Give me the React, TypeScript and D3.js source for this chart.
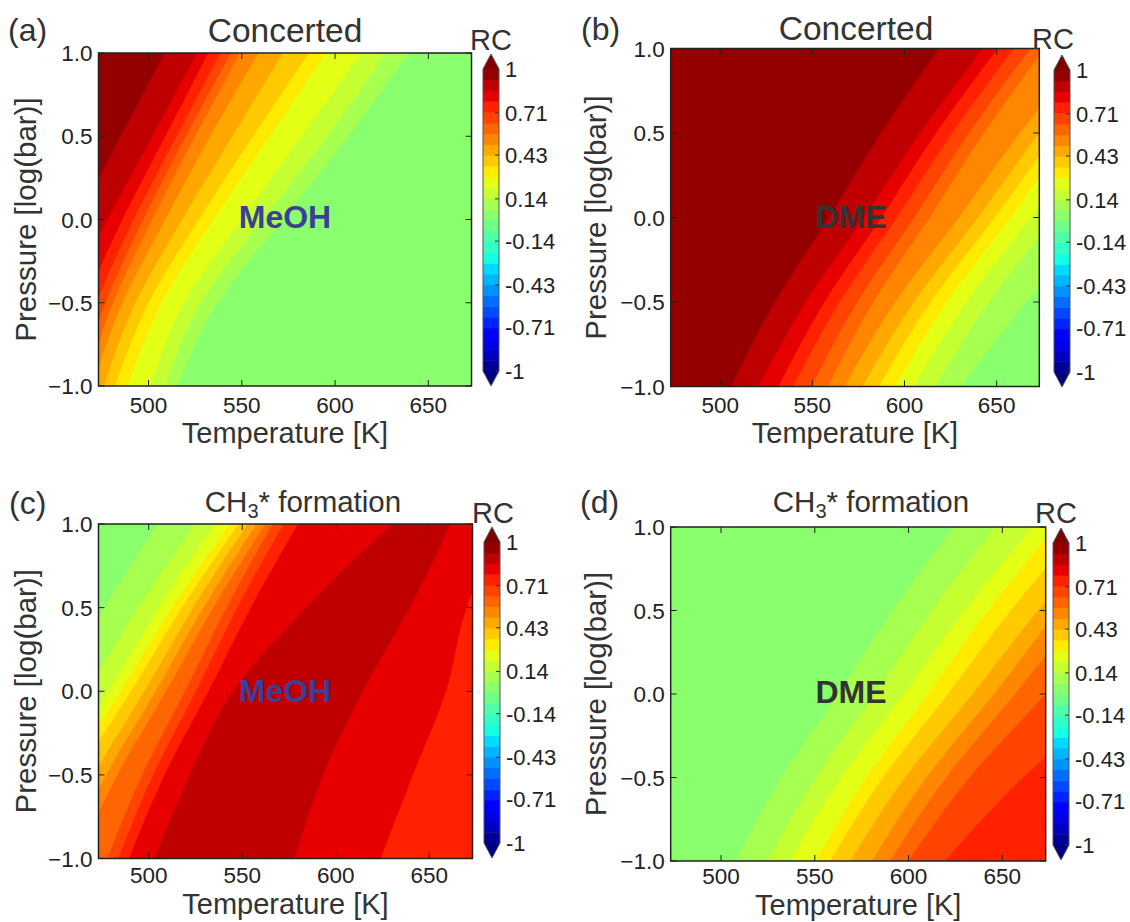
import React from 'react';
import * as d3 from 'd3';

// ---------- shared axes / scale data ----------
const pressures = [-1, -0.5, 0, 0.5, 1]; // log(bar) rows at which boundaries were read
const tempTicks = [500, 550, 600, 650];
const pressTicks = [-1, -0.5, 0, 0.5, 1];
const pressTickLabels = ['\u22121.0', '\u22120.5', '0.0', '0.5', '1.0'];
const cbTickValues = [1, 0.71, 0.43, 0.14, -0.14, -0.43, -0.71, -1];
const cbTickLabels = ['1', '0.71', '0.43', '0.14', '-0.14', '-0.43', '-0.71', '-1'];
const tempDomain = [473.15, 673.15];
const pressDomain = [-1, 1];
const contourLevels = d3.range(29).map((i) => -1 + i / 14);

// ---------- panel (a): Concerted, MeOH ----------
// RC of each filled region, left to right
const aRegionRC = [0.96, 0.89, 0.82, 0.75, 0.68, 0.61, 0.54, 0.46, 0.39, 0.32, 0.25, 0.18, 0.11, 0.04];
// temperature (K) of each region boundary at pressures -1, -0.5, 0, 0.5, 1
const aBoundaryT = [
  [420, 441, 462, 485, 508.7],
  [437, 456, 478, 502, 526],
  [450, 466, 486, 509, 532],
  [457, 472, 492, 515, 538.5],
  [462, 477, 497, 520, 544],
  [466, 481, 502, 525, 549],
  [470, 486, 509, 533, 559],
  [476, 493, 518, 545, 572],
  [482, 500, 527, 556, 586],
  [489, 507, 535, 565, 595],
  [501, 519, 550, 582, 614],
  [509, 528, 561, 596, 627],
  [515.4, 537, 572, 607, 639.4],
];

// ---------- panel (b): Concerted, DME ----------
const bRegionRC = [0.96, 0.89, 0.82, 0.75, 0.68, 0.61, 0.54, 0.46, 0.39, 0.32, 0.25, 0.18, 0.11, 0.04];
const bBoundaryT = [
  [506, 529.7, 559, 587.2, 618.8],
  [520.8, 546.4, 578.0, 608.5, 642.6],
  [531.7, 556.6, 587.5, 617.2, 650.5],
  [539.6, 564.8, 595.9, 625.9, 659.4],
  [549.5, 574.4, 605.3, 635.0, 668.3],
  [558.4, 583.1, 613.7, 643.1, 676],
  [567.3, 595.1, 629.5, 662.6, 699.6],
  [577.2, 605.2, 639.9, 673.2, 710.5],
  [586.1, 614.2, 649.0, 682.5, 720],
  [595, 623.1, 657.8, 691.2, 728.6],
  [605, 633.6, 668.9, 702.9, 741],
  [616.8, 645.6, 681.3, 715.6, 754],
  [630.7, 666.3, 710.3, 752.6, 800],
];

// ---------- panel (c): CH3* formation, MeOH ----------
const cRegionRC = [0.04, 0.11, 0.18, 0.25, 0.32, 0.39, 0.46, 0.54, 0.61, 0.68, 0.75, 0.82, 0.89, 0.82, 0.75];
const cBoundaryT = [
  [402.7, 424.1, 450.7, 476.2, 504.8],
  [415.8, 438.7, 467.1, 494.4, 525],
  [427.9, 450.5, 478.5, 505.4, 535.6],
  [432.8, 456.0, 484.7, 512.4, 543.3],
  [439.5, 462.3, 490.5, 517.7, 548.1],
  [448.7, 470.6, 497.7, 523.7, 552.9],
  [455.8, 477.2, 503.7, 529.2, 557.7],
  [462.1, 483.2, 509.3, 534.4, 562.5],
  [477.9, 496.5, 519.4, 541.5, 566.3],
  [483.7, 502.3, 525.2, 547.3, 572.1],
  [489.4, 508.4, 531.9, 554.5, 579.8],
  [502.9, 522, 545, 584, 630],
  [577.9, 593.3, 614.4, 639.4, 661.5],
  [624, 641.3, 659, 670, 690],
];

// ---------- panel (d): CH3* formation, DME ----------
const dRegionRC = [0.04, 0.11, 0.18, 0.25, 0.32, 0.39, 0.46, 0.54, 0.61, 0.68, 0.75];
const dBoundaryT = [
  [507.8, 532.2, 562.5, 591.6, 624.2],
  [525.2, 550.7, 582.2, 612.5, 646.5],
  [536.9, 564.0, 597.5, 629.8, 665.9],
  [550.5, 577.3, 610.4, 642.3, 678],
  [558.2, 586.3, 621.0, 654.5, 691.9],
  [568.9, 598.1, 634.2, 669.0, 707.9],
  [580.5, 609.5, 645.5, 680.1, 718.8],
  [590.2, 620.0, 656.8, 692.3, 732],
  [599.9, 632.6, 673.2, 712.1, 755.8],
  [619.3, 661.1, 712.8, 762.6, 818],
];

// ---------- jet colormap ----------
const jetR = d3.scaleLinear().domain([0, 0.35, 0.66, 0.89, 1]).range([0, 0, 1, 1, 0.5]).clamp(true);
const jetG = d3.scaleLinear().domain([0, 0.125, 0.375, 0.64, 0.91, 1]).range([0, 0, 1, 1, 0, 0]).clamp(true);
const jetB = d3.scaleLinear().domain([0, 0.11, 0.34, 0.65, 1]).range([0.5, 1, 1, 0, 0]).clamp(true);
const jet = (t: number) =>
  d3.rgb(Math.round(jetR(t) * 255), Math.round(jetG(t) * 255), Math.round(jetB(t) * 255)).formatHex();
const nBands = contourLevels.length - 1;
const bandColor = (k: number) => jet((k + 0.5) / nBands);
const rcColor = (rc: number) => {
  const k = Math.max(0, Math.min(nBands - 1, Math.floor((rc + 1) * (nBands / 2))));
  return bandColor(k);
};

const FONT = '"Liberation Sans", Arial, Helvetica, sans-serif';
const TXT = '#333';

type Layout = {
  key: string; letter: string; letterX: number; letterY: number;
  title: React.ReactNode; titleX: number; titleY: number; titleSize: number;
  product: string; productColor: string; productX: number; productY: number;
  px0: number; px1: number; py0: number; py1: number; tickLabY: number; xlabY: number;
  cbx0: number; cbx1: number; tipTop: number; bodyTop: number; bodyBottom: number; tipBottom: number;
  rcX: number; rcY: number; ylabX: number;
  regions: number[]; bounds: number[][];
};

const ch3Title = (
  <>
    CH<tspan fontSize={20} dy={6}>3</tspan><tspan dy={-6}>* formation</tspan>
  </>
);

const layouts: Layout[] = [
  {
    key: 'a', letter: '(a)', letterX: 8, letterY: 41, title: 'Concerted', titleX: 285, titleY: 42, titleSize: 33.5,
    product: 'MeOH', productColor: '#3b3f98', productX: 285, productY: 228,
    px0: 98.5, px1: 471.5, py0: 53, py1: 386, tickLabY: 412.5, xlabY: 443,
    cbx0: 483, cbx1: 499, tipTop: 54, bodyTop: 69, bodyBottom: 371, tipBottom: 386,
    rcX: 491, rcY: 50, ylabX: 36, regions: aRegionRC, bounds: aBoundaryT,
  },
  {
    key: 'b', letter: '(b)', letterX: 581, letterY: 40, title: 'Concerted', titleX: 856, titleY: 40, titleSize: 33.5,
    product: 'DME', productColor: '#333333', productX: 851, productY: 228,
    px0: 670.7, px1: 1039.3, py0: 48.5, py1: 386.5, tickLabY: 412.5, xlabY: 443,
    cbx0: 1054, cbx1: 1070, tipTop: 55, bodyTop: 70, bodyBottom: 372, tipBottom: 387,
    rcX: 1053, rcY: 49, ylabX: 606, regions: bRegionRC, bounds: bBoundaryT,
  },
  {
    key: 'c', letter: '(c)', letterX: 9, letterY: 514, title: ch3Title, titleX: 303, titleY: 512, titleSize: 29.5,
    product: 'MeOH', productColor: '#3b3f98', productX: 285, productY: 702,
    px0: 98.5, px1: 472.5, py0: 524, py1: 858.5, tickLabY: 883, xlabY: 914,
    cbx0: 484, cbx1: 500, tipTop: 527, bodyTop: 542, bodyBottom: 843, tipBottom: 858,
    rcX: 493, rcY: 523, ylabX: 36, regions: cRegionRC, bounds: cBoundaryT,
  },
  {
    key: 'd', letter: '(d)', letterX: 580, letterY: 513, title: ch3Title, titleX: 871, titleY: 512, titleSize: 29.5,
    product: 'DME', productColor: '#333333', productX: 851, productY: 703,
    px0: 670.7, px1: 1045.7, py0: 527, py1: 861, tickLabY: 884, xlabY: 915,
    cbx0: 1053, cbx1: 1069, tipTop: 528, bodyTop: 543, bodyBottom: 845, tipBottom: 860,
    rcX: 1056, rcY: 523, ylabX: 606, regions: dRegionRC, bounds: dBoundaryT,
  },
];

function Panel({ L }: { L: Layout }) {
  const x = d3.scaleLinear().domain(tempDomain).range([L.px0, L.px1]);
  const y = d3.scaleLinear().domain(pressDomain).range([L.py1, L.py0]);
  const line = d3
    .line<[number, number]>()
    .x((d) => x(d[0]))
    .y((d) => y(d[1]))
    .curve(d3.curveMonotoneY);
  const clipId = `clip-${L.key}`;
  const farRight = L.px1 + 400;

  const regionPaths = L.bounds.map((T, i) => {
    const pts: [number, number][] = pressures.map((p, j) => [T[j], p] as [number, number]).reverse();
    const d = `${line(pts)}L${farRight},${y(-1)}L${farRight},${y(1)}Z`;
    return <path key={i} d={d} fill={rcColor(L.regions[i + 1])} />;
  });

  const cb = d3.scaleLinear().domain([-1, 1]).range([L.bodyBottom, L.bodyTop]);
  const cbMid = (L.cbx0 + L.cbx1) / 2;
  const tick = 6;
  const tickFont = 22.5;

  return (
    <g>
      <defs>
        <clipPath id={clipId}>
          <rect x={L.px0} y={L.py0} width={L.px1 - L.px0} height={L.py1 - L.py0} />
        </clipPath>
      </defs>
      <g clipPath={`url(#${clipId})`}>
        <rect x={L.px0} y={L.py0} width={L.px1 - L.px0} height={L.py1 - L.py0} fill={rcColor(L.regions[0])} />
        {regionPaths}
      </g>
      {/* ticks inside on all four sides */}
      {tempTicks.map((t) => (
        <g key={`xt${t}`} stroke="#222" strokeWidth={1}>
          <line x1={x(t)} x2={x(t)} y1={L.py1} y2={L.py1 - tick} />
          <line x1={x(t)} x2={x(t)} y1={L.py0} y2={L.py0 + tick} />
        </g>
      ))}
      {pressTicks.map((p) => (
        <g key={`yt${p}`} stroke="#222" strokeWidth={1}>
          <line x1={L.px0} x2={L.px0 + tick} y1={y(p)} y2={y(p)} />
          <line x1={L.px1} x2={L.px1 - tick} y1={y(p)} y2={y(p)} />
        </g>
      ))}
      <rect x={L.px0} y={L.py0} width={L.px1 - L.px0} height={L.py1 - L.py0} fill="none" stroke="#222" strokeWidth={1.5} />

      {/* tick labels */}
      {tempTicks.map((t) => (
        <text key={`xl${t}`} x={x(t)} y={L.tickLabY} textAnchor="middle" fontSize={tickFont} fontFamily={FONT} fill="#222">
          {t}
        </text>
      ))}
      {pressTicks.map((p, i) => (
        <text key={`yl${p}`} x={L.px0 - 6} y={y(p) + tickFont * 0.36} textAnchor="end" fontSize={tickFont} fontFamily={FONT} fill="#222">
          {pressTickLabels[i]}
        </text>
      ))}

      {/* axis labels */}
      <text x={(L.px0 + L.px1) / 2} y={L.xlabY} textAnchor="middle" fontSize={29} fontFamily={FONT} fill={TXT}>
        Temperature [K]
      </text>
      <text
        transform={`translate(${L.ylabX},${(L.py0 + L.py1) / 2}) rotate(-90)`}
        textAnchor="middle"
        fontSize={29.5}
        fontFamily={FONT}
        fill={TXT}
      >
        Pressure [log(bar)]
      </text>

      {/* title and panel letter */}
      <text x={L.titleX} y={L.titleY} textAnchor="middle" fontSize={L.titleSize} fontFamily={FONT} fill={TXT}>
        {L.title}
      </text>
      <text x={L.letterX} y={L.letterY} fontSize={32} fontFamily={FONT} fill={TXT}>
        {L.letter}
      </text>

      {/* product label */}
      <text x={L.productX} y={L.productY} textAnchor="middle" fontSize={32} fontWeight="bold" fontFamily={FONT} fill={L.productColor}>
        {L.product}
      </text>

      {/* colorbar */}
      {d3.range(nBands).map((k) => (
        <rect
          key={`cb${k}`}
          x={L.cbx0}
          y={cb(contourLevels[k + 1])}
          width={L.cbx1 - L.cbx0}
          height={cb(contourLevels[k]) - cb(contourLevels[k + 1]) + 0.5}
          fill={bandColor(k)}
        />
      ))}
      <path d={`M${L.cbx0},${L.bodyTop}L${cbMid},${L.tipTop}L${L.cbx1},${L.bodyTop}Z`} fill={jet(1)} />
      <path d={`M${L.cbx0},${L.bodyBottom}L${cbMid},${L.tipBottom}L${L.cbx1},${L.bodyBottom}Z`} fill={jet(0)} />
      <path
        d={`M${L.cbx0},${L.bodyTop}L${cbMid},${L.tipTop}L${L.cbx1},${L.bodyTop}L${L.cbx1},${L.bodyBottom}L${cbMid},${L.tipBottom}L${L.cbx0},${L.bodyBottom}Z`}
        fill="none"
        stroke="#555"
        strokeWidth={1}
      />
      {cbTickValues.map((v, i) => (
        <g key={`cbt${i}`}>
          <line x1={L.cbx1 - 4} x2={L.cbx1} y1={cb(v)} y2={cb(v)} stroke="#333" strokeWidth={1} />
          <text x={L.cbx1 + 6} y={cb(v) + 8} fontSize={22} fontFamily={FONT} fill="#222">
            {cbTickLabels[i]}
          </text>
        </g>
      ))}
      <text x={L.rcX} y={L.rcY} textAnchor="middle" fontSize={29} fontFamily={FONT} fill={TXT}>
        RC
      </text>
    </g>
  );
}

export default function App() {
  return (
    <svg
      width={1130}
      height={922}
      viewBox="0 0 1130 922"
      style={{ position: 'absolute', left: 0, top: 0, display: 'block', background: '#fff' }}
    >
      <rect x={0} y={0} width={1130} height={922} fill="#fff" />
      {layouts.map((L) => (
        <Panel key={L.key} L={L} />
      ))}
    </svg>
  );
}
